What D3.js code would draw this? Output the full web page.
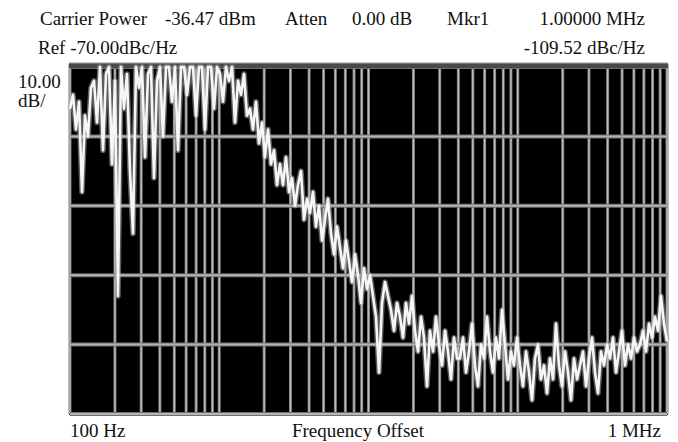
<!DOCTYPE html>
<html>
<head>
<meta charset="utf-8">
<script src="https://cdn.jsdelivr.net/npm/d3@7"></script>
<style>
  body { margin: 0; background: #fff; }
  svg text { font-family: "Liberation Serif", "Times New Roman", serif; fill: #111; }
</style>
</head>
<body>
<div id="chart"></div>
<script>
// sweep settings (log sweep, points spread evenly in log frequency)
var startFreq = 100;
var stopFreq = 1e6;
var refLevel = -70;
var bottomLevel = -120;

// trace values in dBc/Hz, one per sweep point
var traceDb = [
  -76, -74, -79, -75, -88, -77, -80, -73, -72, -78,
  -70, -82, -71, -70, -84, -72, -103, -70, -76, -71,
  -85, -94, -70, -73, -70, -83, -71, -70, -86, -72,
  -70, -80, -70, -70, -75, -70, -82, -70, -70, -74,
  -70, -70, -77, -70, -70, -79, -70, -70, -76, -70,
  -71, -75, -70, -72, -70, -78, -72, -74, -71, -77,
  -76, -79, -75, -81, -78, -83, -79, -84, -82, -87,
  -84, -87, -83, -88, -86, -90, -87, -85, -92, -89,
  -91, -88, -93, -90, -95, -92, -89, -94, -97, -93,
  -96, -99, -95, -98, -101, -97, -100, -104, -99, -102,
  -100, -103, -106, -114, -104, -101, -103, -105, -108, -104,
  -106, -109, -104, -107, -103, -108, -111, -106, -109, -116,
  -108, -111, -106, -110, -113, -108, -111, -115, -109, -112,
  -112, -109, -114, -111, -107, -113, -116, -110, -112, -106,
  -111, -114, -109, -112, -105, -110, -115, -111, -113, -109,
  -113, -116, -111, -114, -118, -112, -110, -115, -113, -117,
  -112, -115, -107, -113, -116, -111, -114, -118, -112, -115,
  -113, -111, -116, -112, -109, -114, -117, -111, -113, -110,
  -112, -109, -114, -111, -108, -113, -110, -112, -109, -111,
  -110, -108, -111, -107, -109, -106, -108, -103, -107, -109.52
];

var yTicks = [-70, -80, -90, -100, -110, -120];
var decades = [100, 1000, 10000, 100000];

// header readouts
var headerRow1 = [
  {text: "Carrier Power", x: 40},
  {text: "-36.47 dBm", x: 165},
  {text: "Atten", x: 285},
  {text: "0.00 dB", x: 352},
  {text: "Mkr1", x: 447}
];
var mkrFreq = "1.00000 MHz";
var mkrValue = "-109.52 dBc/Hz";
var refText = "Ref -70.00dBc/Hz";
var scaleText = ["10.00", "dB/"];
var xLabels = ["100 Hz", "Frequency Offset", "1 MHz"];

var width = 678, height = 442;
var plot = {left: 70, right: 667, top: 67, bottom: 414};

var svg = d3.select("#chart")
  .append("svg")
  .attr("width", width)
  .attr("height", height);

var x = d3.scaleLog()
  .domain([startFreq, stopFreq])
  .range([plot.left, plot.right]);

var y = d3.scaleLinear()
  .domain([bottomLevel, refLevel])
  .range([plot.bottom, plot.top]);

// screen background
svg.append("rect")
  .attr("x", plot.left - 1)
  .attr("y", plot.top - 4)
  .attr("width", plot.right - plot.left + 2)
  .attr("height", plot.bottom - plot.top + 5)
  .attr("fill", "#000");

// vertical grid: 1..9 x each decade
var freqLines = [];
decades.forEach(function(d) {
  for (var m = 1; m < 10; m++) freqLines.push(d * m);
});
freqLines.push(stopFreq);

var grid = svg.append("g");
grid.selectAll("line.vo")
  .data(freqLines)
  .enter().append("line")
  .attr("class", "vo")
  .attr("x1", function(d) { return x(d); })
  .attr("x2", function(d) { return x(d); })
  .attr("y1", plot.top - 3)
  .attr("y2", plot.bottom)
  .attr("stroke", "#767676")
  .attr("stroke-width", 3);
grid.selectAll("line.vi")
  .data(freqLines)
  .enter().append("line")
  .attr("class", "vi")
  .attr("x1", function(d) { return x(d); })
  .attr("x2", function(d) { return x(d); })
  .attr("y1", plot.top - 3)
  .attr("y2", plot.bottom)
  .attr("stroke", "#bdbdbd")
  .attr("stroke-width", 1.4);

// horizontal grid, 10 dB/div
grid.selectAll("line.ho")
  .data(yTicks)
  .enter().append("line")
  .attr("class", "ho")
  .attr("x1", plot.left)
  .attr("x2", plot.right)
  .attr("y1", function(d) { return y(d); })
  .attr("y2", function(d) { return y(d); })
  .attr("stroke", "#6e6e6e")
  .attr("stroke-width", 4);
grid.selectAll("line.hi")
  .data(yTicks)
  .enter().append("line")
  .attr("class", "hi")
  .attr("x1", plot.left)
  .attr("x2", plot.right)
  .attr("y1", function(d) { return y(d); })
  .attr("y2", function(d) { return y(d); })
  .attr("stroke", "#b4b4b4")
  .attr("stroke-width", 2);

// top border band
svg.append("rect")
  .attr("x", plot.left - 1)
  .attr("y", plot.top - 4)
  .attr("width", plot.right - plot.left + 2)
  .attr("height", 5)
  .attr("fill", "#4a4a4a");
svg.append("line")
  .attr("x1", plot.left - 1).attr("x2", plot.right + 1)
  .attr("y1", plot.top - 4).attr("y2", plot.top - 4)
  .attr("stroke", "#9a9a9a").attr("stroke-width", 1);

// the trace
var n = traceDb.length;
var sweep = d3.scaleLinear().domain([0, n - 1]).range([0, 1]);
var line = d3.line()
  .x(function(d, i) { return x(startFreq * Math.pow(stopFreq / startFreq, sweep(i))); })
  .y(function(d) { return y(Math.max(bottomLevel, Math.min(refLevel, d))); });

svg.append("path")
  .datum(traceDb)
  .attr("d", line)
  .attr("fill", "none")
  .attr("stroke", "#a8a8a8")
  .attr("stroke-width", 5.5)
  .attr("stroke-linejoin", "round")
  .attr("stroke-opacity", 0.55);
svg.append("path")
  .datum(traceDb)
  .attr("d", line)
  .attr("fill", "none")
  .attr("stroke", "#f6f6f6")
  .attr("stroke-width", 2.6)
  .attr("stroke-linejoin", "round");

// text readouts
var fs = 19;
svg.selectAll("text.h1")
  .data(headerRow1)
  .enter().append("text")
  .attr("class", "h1")
  .attr("x", function(d) { return d.x; })
  .attr("y", 25)
  .style("font-size", fs + "px")
  .text(function(d) { return d.text; });

svg.append("text")
  .attr("x", 645).attr("y", 25)
  .attr("text-anchor", "end")
  .style("font-size", fs + "px")
  .text(mkrFreq);

svg.append("text")
  .attr("x", 38).attr("y", 54)
  .style("font-size", fs + "px")
  .text(refText);

svg.append("text")
  .attr("x", 645).attr("y", 54)
  .attr("text-anchor", "end")
  .style("font-size", fs + "px")
  .text(mkrValue);

svg.selectAll("text.sc")
  .data(scaleText)
  .enter().append("text")
  .attr("class", "sc")
  .attr("x", 18)
  .attr("y", function(d, i) { return 88 + i * 19; })
  .style("font-size", fs + "px")
  .text(function(d) { return d; });

svg.append("text")
  .attr("x", 70).attr("y", 437)
  .style("font-size", fs + "px")
  .text(xLabels[0]);
svg.append("text")
  .attr("x", 358).attr("y", 437)
  .attr("text-anchor", "middle")
  .style("font-size", fs + "px")
  .text(xLabels[1]);
svg.append("text")
  .attr("x", 661).attr("y", 437)
  .attr("text-anchor", "end")
  .style("font-size", fs + "px")
  .text(xLabels[2]);
</script>
</body>
</html>
